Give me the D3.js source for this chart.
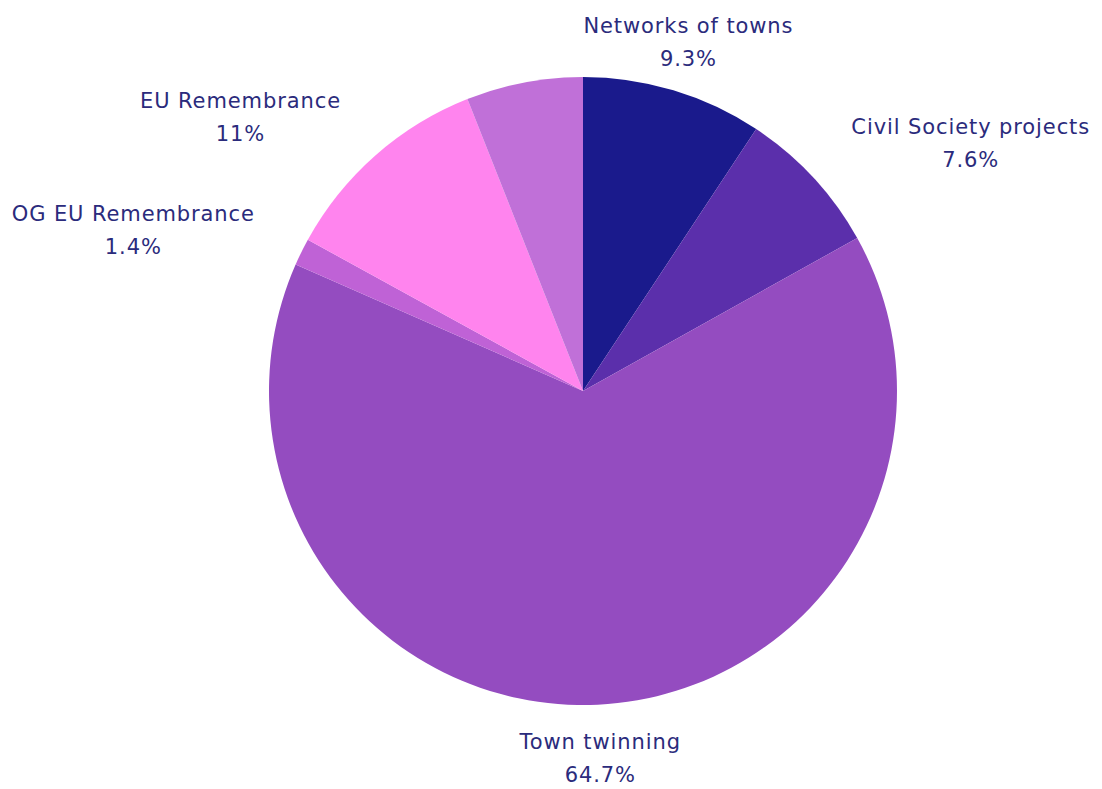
<!DOCTYPE html>
<html>
<head>
<meta charset="utf-8">
<script src="https://cdn.jsdelivr.net/npm/d3@7"></script>
<style>
  html, body { margin: 0; padding: 0; background: #ffffff; }
  svg { display: block; }
  text { font-family: "DejaVu Sans", sans-serif; fill: #2b2b7c; }
</style>
</head>
<body>
<svg id="chart" width="1102" height="789"></svg>
<script>
// Funding shares by strand, clockwise from 12 o'clock
const categories = [
  "Networks of towns",
  "Civil Society projects",
  "Town twinning",
  "OG EU Remembrance",
  "EU Remembrance",
  ""
];
const values = [9.3, 7.6, 64.7, 1.4, 11, 6.0];
const valueLabels = ["9.3%", "7.6%", "64.7%", "1.4%", "11%", ""];
const colors = ["#1a1a8c", "#5b2fab", "#944cc0", "#bf62d6", "#ff84ee", "#c070d8"];

const width = 1102, height = 789;
const cx = 583, cy = 391;
const radius = 314;
const labelRadius = 366;

const data = categories.map((c, i) => ({
  name: c, value: values[i], label: valueLabels[i], color: colors[i]
}));

const svg = d3.select("#chart");
const g = svg.append("g").attr("transform", `translate(${cx},${cy})`);

const pie = d3.pie().sort(null).value(d => d.value);
const arcs = pie(data);

const arc = d3.arc().innerRadius(0).outerRadius(radius);
const labelArc = d3.arc().innerRadius(labelRadius).outerRadius(labelRadius);

g.selectAll("path.slice")
  .data(arcs)
  .join("path")
  .attr("class", "slice")
  .attr("d", arc)
  .attr("fill", d => d.data.color);

// Two-line labels placed just outside each slice
const fontSize = 21;
const nameOffset = -8;
const valueOffset = 25;
const labels = g.selectAll("g.label")
  .data(arcs.filter(d => d.data.name))
  .join("g")
  .attr("class", "label")
  .attr("transform", d => {
    const [x, y] = labelArc.centroid(d);
    return `translate(${x},${y})`;
  });

function anchorFor(d) {
  const a = (d.startAngle + d.endAngle) / 2;
  const s = Math.sin(a);
  if (Math.abs(s) < 0.4) return "middle";
  return s > 0 ? "start" : "end";
}

labels.append("text")
  .attr("text-anchor", anchorFor)
  .attr("font-size", fontSize)
  .attr("letter-spacing", 0.9)
  .attr("y", nameOffset)
  .text(d => d.data.name);

labels.append("text")
  .attr("text-anchor", "middle")
  .attr("font-size", fontSize)
  .attr("letter-spacing", 0.9)
  .attr("y", valueOffset)
  .attr("x", function (d) {
    // centre the value under its category name
    const anchor = anchorFor(d);
    const nameNode = this.parentNode.querySelector("text");
    const w = nameNode.getComputedTextLength();
    if (anchor === "start") return w / 2;
    if (anchor === "end") return -w / 2;
    return 0;
  })
  .text(d => d.data.label);
</script>
</body>
</html>
